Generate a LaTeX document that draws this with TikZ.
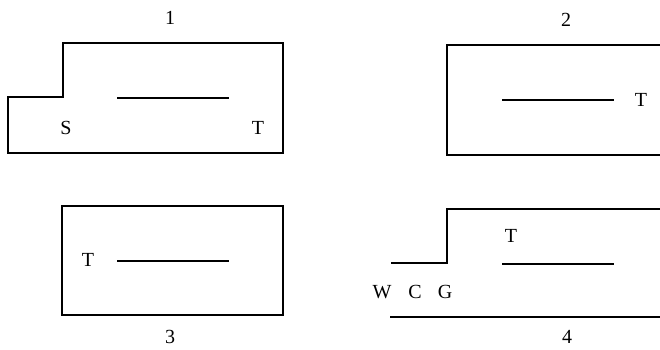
\documentclass[tikz,border=0pt]{standalone}
\usepackage{fontspec}
\setmainfont{Liberation Serif}
\usetikzlibrary{positioning}

\begin{document}
\begin{tikzpicture}[x=1pt, y=-1pt, wall/.style={line width=2pt, line join=miter},
      lbl/.style={inner sep=0pt, font=\fontsize{20}{22}\selectfont}]
      \useasboundingbox (0,0) rectangle (660,349);
      % Panel 1
      \draw[wall] (8,97) -- (63,97) -- (63,43) -- (283,43) -- (283,153) -- (8,153) -- cycle;
      \draw[wall] (117,98) -- (229,98);
      \node[lbl] (n1) at (170,18) {1};
      \node[lbl] (s1) at (66,128) {S};
      \node[lbl] (t1) at (258,128) {T};
      % Panel 2
      \draw[wall] (660,45) -- (447,45) -- (447,155) -- (660,155);
      \draw[wall] (502,100) -- (614,100);
      \node[lbl] (n2) at (566,20) {2};
      \node[lbl] (t2) at (641,100) {T};
      % Panel 3
      \draw[wall] (62,206) rectangle (283,315);
      \draw[wall] (117,261) -- (229,261);
      \node[lbl] (n3) at (170,337) {3};
      \node[lbl] (t3) at (88,260) {T};
      % Panel 4
      \draw[wall] (391,263) -- (447,263) -- (447,209) -- (660,209);
      \draw[wall] (502,264) -- (614,264);
      \draw[wall] (390,317) -- (660,317);
      \node[lbl] (n4) at (567,337) {4};
      \node[lbl] (t4) at (511,236) {T};
      \foreach \l/\xx in {W/382, C/415, G/445}
        \node[lbl] (\l) at (\xx,292) {\l};
\end{tikzpicture}
\end{document}
